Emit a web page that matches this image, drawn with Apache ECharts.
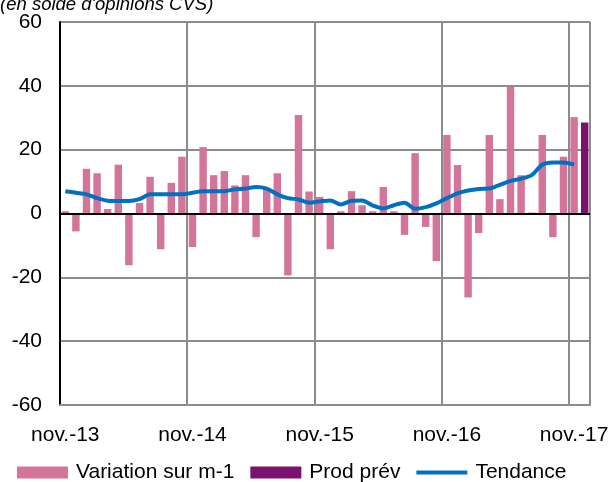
<!DOCTYPE html>
<html><head><meta charset="utf-8">
<script src="https://cdn.jsdelivr.net/npm/echarts@6/dist/echarts.min.js"></script>
<style>html,body{margin:0;padding:0;background:#fff}#c{width:614px;height:482px}</style>
</head><body><div id="c"></div>
<script>
const categories = [
 "nov.-13","déc.-13","janv.-14","févr.-14","mars-14","avr.-14","mai-14","juin-14","juil.-14","août-14","sept.-14","oct.-14",
 "nov.-14","déc.-14","janv.-15","févr.-15","mars-15","avr.-15","mai-15","juin-15","juil.-15","août-15","sept.-15","oct.-15",
 "nov.-15","déc.-15","janv.-16","févr.-16","mars-16","avr.-16","mai-16","juin-16","juil.-16","août-16","sept.-16","oct.-16",
 "nov.-16","déc.-16","janv.-17","févr.-17","mars-17","avr.-17","mai-17","juin-17","juil.-17","août-17","sept.-17","oct.-17",
 "nov.-17","déc.-17"];
const variation = [
 0.7,-5.6,14.0,12.6,1.4,15.3,-16.2,3.3,11.5,-11.2,9.6,17.8,
 -10.5,20.8,12.0,13.3,8.8,12.0,-7.4,8.0,12.6,-19.4,30.9,6.9,
 5.2,-11.2,0.7,7.0,2.6,0.7,8.3,0.7,-6.7,18.9,-4.2,-14.9,
 24.6,15.2,-26.3,-6.1,24.6,4.5,39.7,12.0,0.3,24.6,-7.4,17.8,
 30.2,null];
const prodPrev = [
 null,null,null,null,null,null,null,null,null,null,null,null,
 null,null,null,null,null,null,null,null,null,null,null,null,
 null,null,null,null,null,null,null,null,null,null,null,null,
 null,null,null,null,null,null,null,null,null,null,null,null,
 null,28.5];
const tendance = [
 7.0,6.5,6.0,4.8,4.0,3.9,3.9,4.5,6.0,6.0,6.0,6.0,
 6.5,7.0,7.0,7.0,7.6,7.8,8.3,7.8,6.0,4.8,4.4,3.4,
 3.8,4.1,2.8,4.0,4.1,2.5,1.6,2.6,3.4,1.5,2.0,3.2,
 4.8,6.3,7.2,7.7,7.8,9.0,10.2,10.9,12.0,15.3,16.0,16.0,
 15.3,null];

const FONT = '"Liberation Sans", Arial, sans-serif';
const chart = echarts.init(document.getElementById('c'), null, {renderer:'canvas'});
chart.setOption({
  animation:false,
  backgroundColor:'#fff',
  textStyle:{fontFamily:FONT},
  graphic:[{type:'text', left:0, top:-5, style:{text:"(en solde d'opinions CVS)", fontFamily:FONT, fontStyle:'italic', fontSize:18.5, fill:'#000'}}],
  grid:{left:60, right:24, top:22, bottom:77, containLabel:false},
  legend:{
    top:462, left:17, padding:0, itemWidth:51, itemHeight:12, itemGap:16,
    textStyle:{fontSize:21, color:'#000', fontFamily:FONT, padding:[0,0,0,3]},
    data:[{name:'Variation sur m-1', icon:'rect'},{name:'Prod prév', icon:'rect'},{name:'Tendance', icon:'path://M0,0H52V4H0Z'}]
  },
  xAxis:{
    type:'category', data:categories, boundaryGap:true,
    axisLine:{onZero:false, lineStyle:{color:'#8c8c8c', width:2}},
    axisTick:{show:false},
    axisLabel:{interval:(i)=>i%12===0, color:'#000', fontSize:21, margin:20, fontFamily:FONT},
    splitLine:{show:true, interval:(i)=>i%12===0, lineStyle:{color:'#8c8c8c', width:2}}
  },
  yAxis:{
    type:'value', min:-60, max:60, interval:20,
    axisLine:{show:true, lineStyle:{color:'#000', width:2}},
    axisTick:{show:false},
    axisLabel:{color:'#000', fontSize:21, margin:18, fontFamily:FONT},
    splitLine:{lineStyle:{color:'#8c8c8c', width:2}}
  },
  series:[
    {name:'Variation sur m-1', type:'bar', data:variation, barWidth:'70%', barGap:'-100%',
     itemStyle:{color:'#d4749a'},
     markLine:{silent:true, symbol:'none', label:{show:false}, lineStyle:{color:'#000', width:2, type:'solid'}, data:[{yAxis:0}]}},
    {name:'Prod prév', type:'bar', data:prodPrev, barWidth:'70%', barGap:'-100%', itemStyle:{color:'#7b1270'}},
    {name:'Tendance', type:'line', data:tendance, symbol:'none', smooth:0.3, lineStyle:{color:'#0070c0', width:4}, itemStyle:{color:'#0070c0'}}
  ]
});
</script></body></html>
